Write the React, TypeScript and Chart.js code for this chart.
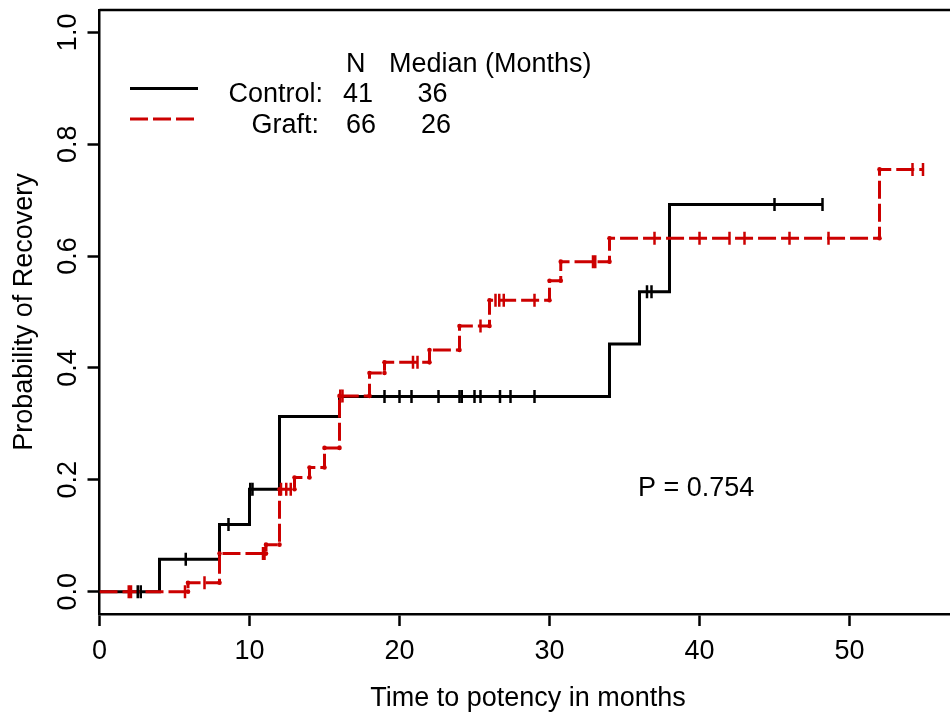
import React, { useEffect, useRef } from "react";
import { Chart, registerables } from "chart.js";

Chart.register(...registerables);

// ---- data ----
const controlEventTimes = [4, 8, 10, 12, 16, 34, 36, 38];
const controlCumulative = [0.058, 0.12, 0.183, 0.313, 0.349, 0.443, 0.536, 0.692];
const controlCensorTimes = [
  2.55, 2.75, 5.75, 8.6, 10.05, 10.2, 19, 20, 20.8, 22.6, 24, 24.15, 25.0, 25.4,
  26.7, 27.4, 29, 36.5, 36.8, 45, 48.2,
];

const graftEventTimes = [5.9, 8, 11.1, 12, 13, 14, 15, 16, 18, 19, 22, 24, 26, 30, 30.75, 34, 52];
const graftCumulative = [
  0.016, 0.068, 0.084, 0.183, 0.204, 0.222, 0.257, 0.35, 0.391, 0.41, 0.432, 0.475,
  0.521, 0.556, 0.59, 0.632, 0.755,
];
const graftCensorTimes = [
  1.95, 2.1, 5.7, 7.0, 10.9, 11.0, 12.1, 12.45, 12.75, 16.05, 16.2, 20.9, 21.2, 25.4,
  26.4, 26.65, 26.95, 29.0, 32.9, 33.05, 37, 40, 42, 43, 46, 48.6, 54.2, 54.9,
];

const xTickValues = [0, 10, 20, 30, 40, 50];
const xTickLabels = ["0", "10", "20", "30", "40", "50"];
const yTickValues = [0, 0.2, 0.4, 0.6, 0.8, 1.0];
const yTickLabels = ["0.0", "0.2", "0.4", "0.6", "0.8", "1.0"];

const xAxisTitle = "Time to potency in months";
const yAxisTitle = "Probability of Recovery";
const legendHeader = ["N", "Median (Months)"];
const groupNames = ["Control:", "Graft:"];
const groupN = ["41", "66"];
const groupMedian = ["36", "26"];
const pValueText = "P = 0.754";

// ---- helpers ----
type Pt = { x: number; y: number };

function stepPoints(times: number[], cum: number[], end: number): Pt[] {
  const pts: Pt[] = [{ x: 0, y: 0 }];
  let prev = 0;
  times.forEach((t, i) => {
    pts.push({ x: t, y: prev });
    pts.push({ x: t, y: cum[i] });
    prev = cum[i];
  });
  pts.push({ x: end, y: prev });
  return pts;
}

function levelAt(t: number, times: number[], cum: number[]): number {
  let v = 0;
  for (let i = 0; i < times.length; i++) if (times[i] <= t) v = cum[i];
  return v;
}

const FONT = "27px 'Liberation Sans', Arial, Helvetica, sans-serif";
const RED = "#cc0000";

const decorPlugin = {
  id: "decor",
  afterDraw(chart: any) {
    const { ctx, chartArea } = chart;
    const xs = chart.scales.x;
    const ys = chart.scales.y;
    ctx.save();
    // top frame line
    ctx.strokeStyle = "#000";
    ctx.lineWidth = 2.5;
    ctx.beginPath();
    ctx.moveTo(chartArea.left, chartArea.top);
    ctx.lineTo(chartArea.right, chartArea.top);
    ctx.stroke();

    ctx.fillStyle = "#000";
    ctx.font = FONT;
    // x tick labels
    ctx.textAlign = "center";
    ctx.textBaseline = "alphabetic";
    xs.ticks.forEach((tk: any, i: number) => {
      ctx.fillText(xTickLabels[i], xs.getPixelForValue(tk.value), 659);
    });
    // x title
    ctx.fillText(xAxisTitle, 528, 706);

    // y tick labels (rotated)
    ys.ticks.forEach((tk: any, i: number) => {
      ctx.save();
      ctx.translate(76, ys.getPixelForValue(tk.value));
      ctx.rotate(-Math.PI / 2);
      ctx.textAlign = "center";
      ctx.fillText(yTickLabels[i], 0, 0);
      ctx.restore();
    });
    // y title
    ctx.save();
    ctx.translate(32, (chartArea.top + chartArea.bottom) / 2);
    ctx.rotate(-Math.PI / 2);
    ctx.textAlign = "center";
    ctx.fillText(yAxisTitle, 0, 0);
    ctx.restore();

    // legend
    ctx.textAlign = "left";
    ctx.fillText(legendHeader[0], 346, 72);
    ctx.fillText(legendHeader[1], 389, 72);
    const rowBase = [102, 133];
    const nameX = [228.5, 251.5];
    const nX = [343, 346];
    const mX = [417.5, 421];
    for (let i = 0; i < 2; i++) {
      ctx.fillText(groupNames[i], nameX[i], rowBase[i]);
      ctx.fillText(groupN[i], nX[i], rowBase[i]);
      ctx.fillText(groupMedian[i], mX[i], rowBase[i]);
    }
    ctx.lineWidth = 3;
    ctx.strokeStyle = "#000";
    ctx.beginPath();
    ctx.moveTo(130, 88.5);
    ctx.lineTo(198, 88.5);
    ctx.stroke();
    ctx.strokeStyle = RED;
    ctx.setLineDash([18, 5]);
    ctx.beginPath();
    ctx.moveTo(130, 119);
    ctx.lineTo(195, 119);
    ctx.stroke();
    ctx.setLineDash([]);

    // p value
    ctx.fillStyle = "#000";
    ctx.fillText(pValueText, 638, 496);
    ctx.restore();
  },
};

export default function App() {
  const ref = useRef<HTMLCanvasElement | null>(null);

  useEffect(() => {
    if (!ref.current) return;
    const controlEnd = Math.max(...controlCensorTimes);
    const graftEnd = Math.max(...graftCensorTimes);
    const controlLine = stepPoints(controlEventTimes, controlCumulative, controlEnd);
    const graftLine = stepPoints(graftEventTimes, graftCumulative, graftEnd);
    const controlCens = controlCensorTimes.map((t) => ({
      x: t,
      y: levelAt(t, controlEventTimes, controlCumulative),
    }));
    const graftCens = graftCensorTimes.map((t) => ({
      x: t,
      y: levelAt(t, graftEventTimes, graftCumulative),
    }));
    const nG = graftLine.length;

    const chart = new Chart(ref.current, {
      type: "scatter",
      data: {
        datasets: [
          {
            label: "Graft censored",
            data: graftCens,
            showLine: false,
            pointStyle: "line",
            rotation: 90,
            pointRadius: 6.5,
            pointBorderWidth: 2.5,
            borderColor: RED,
            backgroundColor: RED,
            order: 0,
          } as any,
          {
            label: "Control censored",
            data: controlCens,
            showLine: false,
            pointStyle: "line",
            rotation: 90,
            pointRadius: 6.5,
            pointBorderWidth: 2.5,
            borderColor: "#000",
            backgroundColor: "#000",
            order: 1,
          },
          {
            label: "Graft",
            data: graftLine,
            showLine: true,
            borderColor: RED,
            backgroundColor: RED,
            borderWidth: 3,
            borderDash: [18, 5],
            pointRadius: (c: any) => (c.dataIndex === 0 || c.dataIndex === nG - 1 ? 0 : 2.3),
            pointBorderWidth: 0,
            pointBackgroundColor: RED,
            order: 2,
          },
          {
            label: "Control",
            data: controlLine,
            showLine: true,
            borderColor: "#000",
            backgroundColor: "#000",
            borderWidth: 3,
            pointRadius: 0,
            order: 3,
          },
        ],
      },
      options: {
        responsive: false,
        animation: false,
        devicePixelRatio: 1,
        events: [],
        layout: { autoPadding: false, padding: { top: 10, left: 0, right: 0, bottom: 0 } },
        plugins: { legend: { display: false }, tooltip: { enabled: false } },
        scales: {
          x: {
            type: "linear",
            min: 0,
            max: 56.7,
            afterFit: (s: any) => {
              s.height = 104;
            },
            afterBuildTicks: (s: any) => {
              s.ticks = xTickValues.map((v) => ({ value: v }));
            },
            ticks: { display: false },
            grid: {
              display: true,
              drawOnChartArea: false,
              drawTicks: true,
              tickLength: 12,
              tickWidth: 2.5,
              tickColor: "#000",
            },
            border: { display: true, color: "#000", width: 2.5 },
          },
          y: {
            type: "linear",
            min: -0.04,
            max: 1.04,
            afterFit: (s: any) => {
              s.width = 99.5;
            },
            afterBuildTicks: (s: any) => {
              s.ticks = yTickValues.map((v) => ({ value: v }));
            },
            ticks: { display: false },
            grid: {
              display: true,
              drawOnChartArea: false,
              drawTicks: true,
              tickLength: 12,
              tickWidth: 2.5,
              tickColor: "#000",
            },
            border: { display: true, color: "#000", width: 2.5 },
          },
        },
      },
      plugins: [decorPlugin],
    });
    return () => chart.destroy();
  }, []);

  return (
    <div style={{ position: "absolute", left: 0, top: 0, width: 950, height: 718, background: "#fff" }}>
      <canvas ref={ref} width={950} height={718} style={{ display: "block" }} />
    </div>
  );
}
